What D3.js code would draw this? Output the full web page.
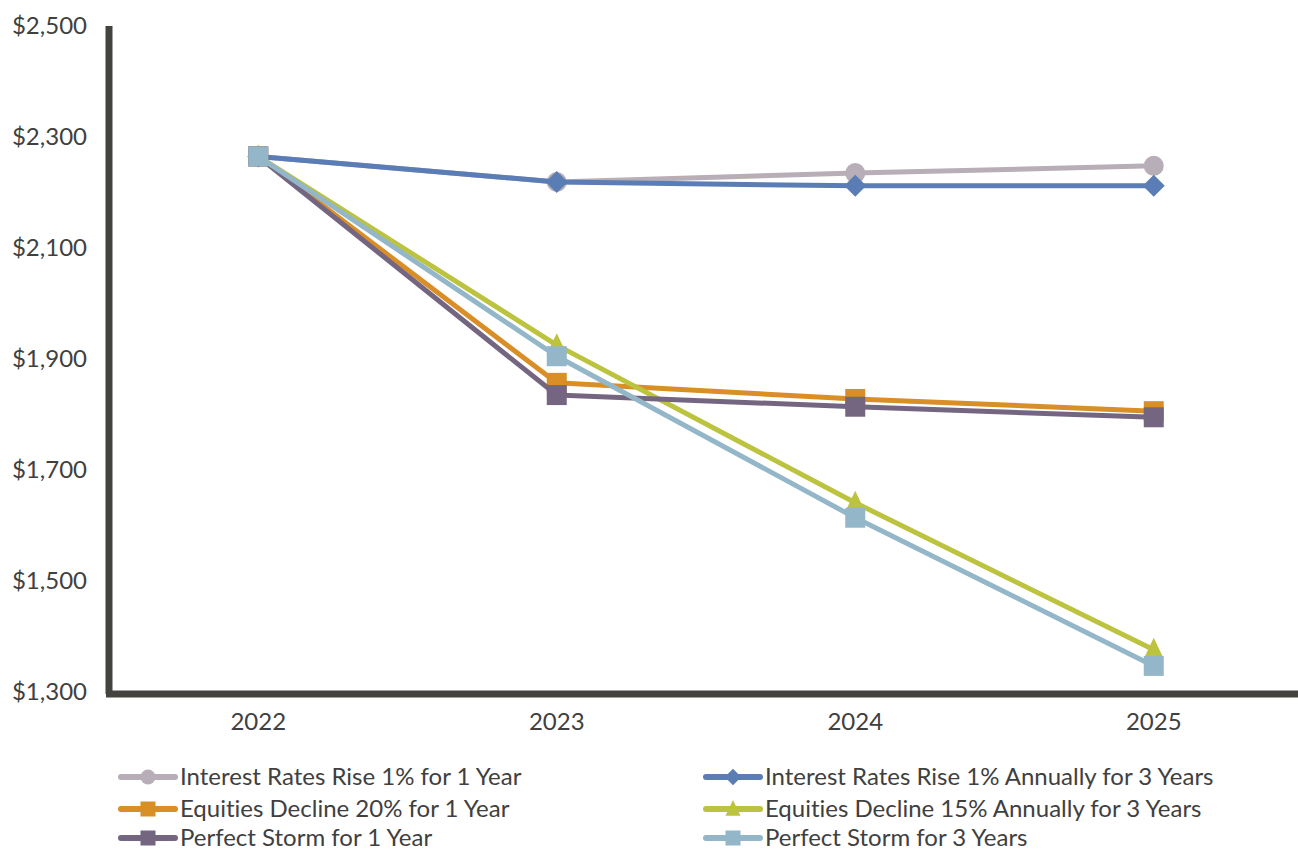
<!DOCTYPE html>
<html>
<head>
<meta charset="utf-8">
<script src="https://cdn.jsdelivr.net/npm/d3@7"></script>
<style>
  html, body { margin: 0; padding: 0; background: #fff; }
  svg { display: block; }
  text { font-family: Lato, "Open Sans", sans-serif; fill: #404040; font-variant-ligatures: none; }
</style>
</head>
<body>
<svg id="chart" width="1298" height="850"></svg>
<script>
// Projected portfolio value under stress scenarios
const years = ["2022", "2023", "2024", "2025"];
const yTicks = [1300, 1500, 1700, 1900, 2100, 2300, 2500];

const seriesNames = [
  "Interest Rates Rise 1% for 1 Year",
  "Interest Rates Rise 1% Annually for 3 Years",
  "Equities Decline 20% for 1 Year",
  "Equities Decline 15% Annually for 3 Years",
  "Perfect Storm for 1 Year",
  "Perfect Storm for 3 Years"
];
const rateRise1Yr   = [2265, 2219, 2235, 2248];
const rateRise3Yr   = [2265, 2219, 2212, 2212];
const equityDrop1Yr = [2265, 1857, 1828, 1806];
const equityDrop3Yr = [2265, 1925, 1641, 1376];
const storm1Yr      = [2265, 1835, 1814, 1795];
const storm3Yr      = [2265, 1905, 1614, 1347];

const seriesValues = [rateRise1Yr, rateRise3Yr, equityDrop1Yr, equityDrop3Yr, storm1Yr, storm3Yr];
const colors  = ["#b8aeb7", "#5a7db6", "#d98f26", "#bcc33f", "#746680", "#93b6c9"];
const symbols = ["circle", "diamond", "square", "triangle", "square", "square"];

const svg = d3.select("#chart");

const x = d3.scalePoint().domain(years).range([109, 1303]).padding(0.5);
const y = d3.scaleLinear().domain([1300, 2500]).range([692, 26]);

// Y tick labels
svg.append("g")
  .selectAll("text")
  .data(yTicks)
  .enter().append("text")
  .attr("x", 87)
  .attr("y", d => y(d))
  .attr("dy", "0.35em")
  .attr("text-anchor", "end")
  .style("font-size", "24px")
  .text(d => d3.format("$,")(d));

// X tick labels
svg.append("g")
  .selectAll("text")
  .data(years)
  .enter().append("text")
  .attr("x", d => x(d))
  .attr("y", 722)
  .attr("dy", "0.35em")
  .attr("text-anchor", "middle")
  .style("font-size", "24px")
  .text(d => d);

// Axis lines
svg.append("line")
  .attr("x1", 109).attr("x2", 109)
  .attr("y1", 26).attr("y2", 694)
  .attr("stroke", "#45433e").attr("stroke-width", 7);
svg.append("line")
  .attr("x1", 106).attr("x2", 1298)
  .attr("y1", 694).attr("y2", 694)
  .attr("stroke", "#45433e").attr("stroke-width", 7);

const line = d3.line().x((d, i) => x(years[i])).y(d => y(d));

function drawMarker(g, type, cx, cy, color, scale) {
  const s = scale || 1;
  if (type === "circle") {
    g.append("circle").attr("cx", cx).attr("cy", cy).attr("r", 10 * s).attr("fill", color);
  } else if (type === "diamond") {
    const r = 11 * s;
    g.append("path").attr("d", `M${cx},${cy - r}L${cx + r},${cy}L${cx},${cy + r}L${cx - r},${cy}Z`).attr("fill", color);
  } else if (type === "square") {
    const h = 10 * s;
    g.append("rect").attr("x", cx - h).attr("y", cy - h).attr("width", 2 * h).attr("height", 2 * h).attr("fill", color);
  } else if (type === "triangle") {
    const h = 10 * s;
    g.append("path").attr("d", `M${cx},${cy - 12 * s}L${cx + h},${cy + 9 * s}L${cx - h},${cy + 9 * s}Z`).attr("fill", color);
  }
}

// Series lines and markers
seriesValues.forEach((vals, k) => {
  const g = svg.append("g");
  g.append("path")
    .attr("d", line(vals))
    .attr("fill", "none")
    .attr("stroke", colors[k])
    .attr("stroke-width", 5)
    .attr("stroke-linejoin", "round");
  vals.forEach((v, i) => drawMarker(g, symbols[k], x(years[i]), y(v), colors[k]));
});

// Legend
const legendCols = [118, 703];
const legendRows = [777, 809, 838];
seriesNames.forEach((name, k) => {
  const lx = legendCols[k % 2];
  const ly = legendRows[Math.floor(k / 2)];
  const g = svg.append("g");
  g.append("line")
    .attr("x1", lx + 3).attr("x2", lx + 57)
    .attr("y1", ly).attr("y2", ly)
    .attr("stroke", colors[k]).attr("stroke-width", 6).attr("stroke-linecap", "round");
  drawMarker(g, symbols[k], lx + 30, ly, colors[k], 0.75);
  g.append("text")
    .attr("x", lx + 62)
    .attr("y", ly)
    .attr("dy", "0.35em")
    .style("font-size", "24px")
    .text(name);
});
</script>
</body>
</html>
